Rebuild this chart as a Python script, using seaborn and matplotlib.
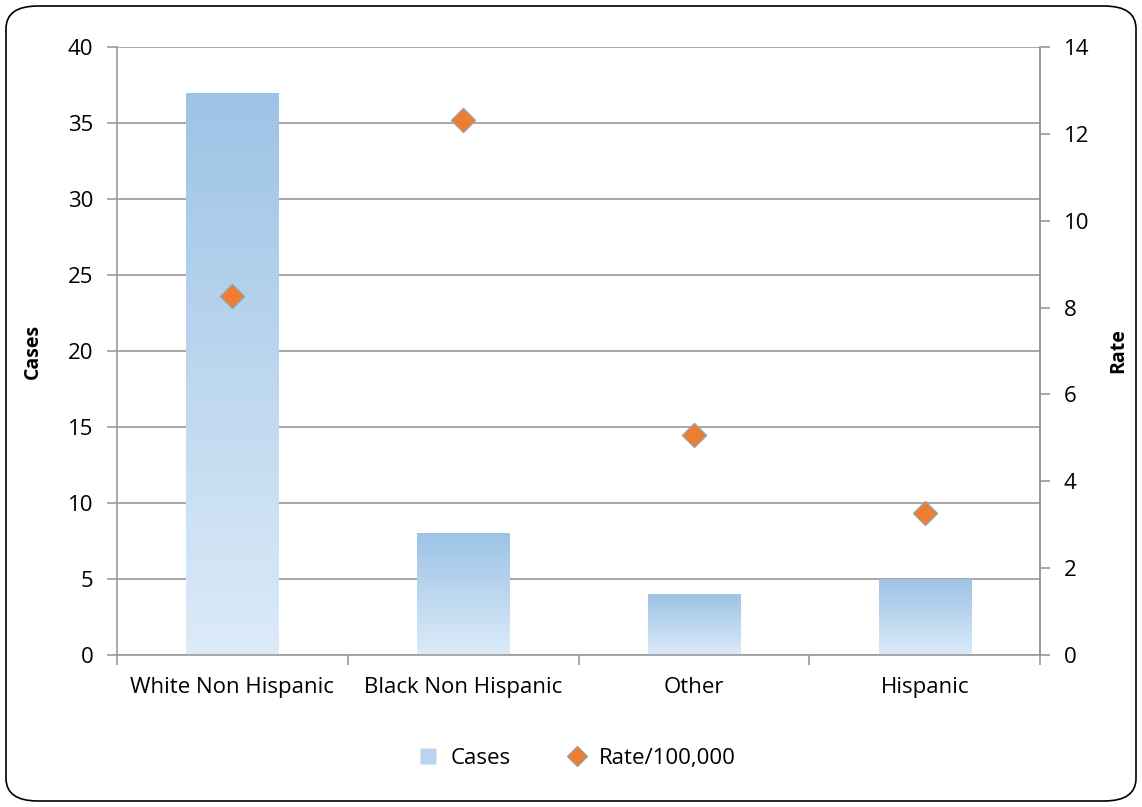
import numpy as np
import pandas as pd
import matplotlib
matplotlib.use("Agg")
import matplotlib.pyplot as plt
import seaborn as sns
from matplotlib.patches import FancyBboxPatch
from matplotlib.lines import Line2D
from matplotlib.colors import LinearSegmentedColormap

# data
groups = ["White Non Hispanic", "Black Non Hispanic", "Other", "Hispanic"]
cases = [37, 8, 4, 5]
rates = [8.27, 12.32, 5.07, 3.27]

sns.set_theme(style="white")
plt.rcParams["font.family"] = ["Open Sans", "DejaVu Sans"]
plt.rcParams["text.color"] = "black"
plt.rcParams["axes.labelcolor"] = "black"
plt.rcParams["xtick.color"] = "black"
plt.rcParams["ytick.color"] = "black"

df = pd.DataFrame({"group": groups, "cases": cases, "rate": rates})

fig = plt.figure(figsize=(11.42, 8.07), dpi=100)
ax = fig.add_axes([0.1025, 0.1884, 0.8082, 0.7534])

grid_col = "#9a9a9a"
fs = 16
sns.barplot(data=df, x="group", y="cases", ax=ax, width=0.4, color="#9dc3e6",
            order=groups, saturation=1, zorder=2)

# gradient fill for the bars (dark at top, light at bottom)
cmap = LinearSegmentedColormap.from_list("bar", ["#dcebf8", "#9dc3e6"])
grad = np.linspace(0, 1, 256).reshape(-1, 1)
for p in ax.patches:
    x0, y0 = p.get_x(), p.get_y()
    w, h = p.get_width(), p.get_height()
    im = ax.imshow(grad, extent=[x0, x0 + w, y0, y0 + h], origin="lower",
                   cmap=cmap, aspect="auto", zorder=2)
    im.set_clip_path(p)
    p.set_facecolor("none")
    p.set_edgecolor("none")

ax.set_xlim(-0.5, 3.5)
ax.set_ylim(0, 40)
ax.set_yticks(range(0, 41, 5))
ax.yaxis.grid(True, color=grid_col, linewidth=1.2, zorder=0)
ax.set_axisbelow(True)
ax.set_xlabel("")
ax.set_ylabel("Cases", fontsize=14, fontweight="bold", labelpad=18)

ax.set_xticks(range(4))
ax.set_xticklabels(groups)
ax.set_xticks([-0.5, 0.5, 1.5, 2.5, 3.5], minor=True)
ax.tick_params(axis="x", which="major", length=0, labelsize=fs, pad=16,
               labelcolor="black")
ax.tick_params(axis="x", which="minor", length=7, width=1.2, color=grid_col,
               bottom=True)
ax.tick_params(axis="y", length=7, width=1.2, color=grid_col, labelsize=fs,
               left=True, pad=10, labelcolor="black")

ax.spines["top"].set_visible(False)
for side in ["left", "bottom", "right"]:
    ax.spines[side].set_color(grid_col)
    ax.spines[side].set_linewidth(1.2)

ax2 = ax.twinx()
sns.scatterplot(data=df, x="group", y="rate", ax=ax2, marker="D", s=150,
                color="#ed7d31", edgecolor="#a0a0a0", linewidth=1, zorder=5,
                legend=False)
ax2.set_ylim(0, 14)
ax2.set_yticks(range(0, 15, 2))
ax2.set_ylabel("Rate", fontsize=14, fontweight="bold", labelpad=14)
ax2.tick_params(axis="y", length=7, width=1.2, color=grid_col, labelsize=fs,
                right=True, pad=10, labelcolor="black")
ax2.grid(False)
for side in ["top", "left", "bottom"]:
    ax2.spines[side].set_visible(False)
ax2.spines["right"].set_color(grid_col)
ax2.spines["right"].set_linewidth(1.2)
ax2.set_xlim(-0.5, 3.5)

handles = [
    Line2D([], [], marker="s", linestyle="none", markersize=11,
           markerfacecolor="#b8d4ee", markeredgecolor="none", label="Cases"),
    Line2D([], [], marker="D", linestyle="none", markersize=10,
           markerfacecolor="#ed7d31", markeredgecolor="#a0a0a0", label="Rate/100,000"),
]
fig.legend(handles=handles, loc="center", bbox_to_anchor=(0.5, 0.06), ncol=2,
           frameon=False, fontsize=fs, handletextpad=0.0, columnspacing=2.0)

# rounded outer border
border = FancyBboxPatch((6 / 1142, 6 / 807), 1130 / 1142, 795 / 807,
                        boxstyle="round,pad=0,rounding_size=0.028",
                        transform=fig.transFigure, fill=False,
                        edgecolor="black", linewidth=1.2)
fig.patches.append(border)

fig.savefig("out.png", dpi=100)
